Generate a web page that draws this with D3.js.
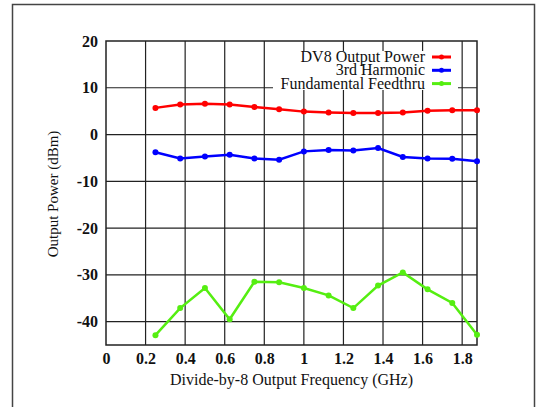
<!DOCTYPE html>
<html lang="en">
	<head>
		<meta charset="utf-8">
		<title>DV8 output power</title>
		<script src="https://d3js.org/d3.v7.min.js"></script>
		<style type="text/css">
			body { margin: 0; background: white; }
			text { font-family: "Liberation Serif", serif; fill: #111; }
			.tick text { font-weight: bold; font-size: 16px; }
		</style>
	</head>
	<body>
		<svg id="chart" width="536" height="407"></svg>

		<script type="text/javascript">

			// frequency (GHz)
			var freq = [0.25, 0.375, 0.5, 0.625, 0.75, 0.875, 1.0, 1.125, 1.25, 1.375, 1.5, 1.625, 1.75, 1.875];

			// output power (dBm)
			var dv8Power = [5.7, 6.4, 6.6, 6.4, 5.9, 5.4, 4.9, 4.7, 4.6, 4.6, 4.7, 5.1, 5.2, 5.2];
			var harmonic3 = [-3.8, -5.1, -4.7, -4.3, -5.1, -5.4, -3.6, -3.3, -3.4, -2.9, -4.8, -5.1, -5.2, -5.7];
			var feedthru = [-42.9, -37.1, -32.8, -39.5, -31.5, -31.6, -32.8, -34.4, -37.1, -32.3, -29.5, -33.1, -36.0, -42.8];

			var seriesNames = ["DV8 Output Power", "3rd Harmonic", "Fundamental Feedthru"];
			var seriesColors = ["#ff0000", "#0000ff", "#55ee11"];

			var xTicks = [0, 0.2, 0.4, 0.6, 0.8, 1, 1.2, 1.4, 1.6, 1.8];
			var yTicks = [20, 10, 0, -10, -20, -30, -40];

			var svg = d3.select("#chart");

			// outer frame
			svg.append("rect")
				.attr("x", 12.5).attr("y", 4.5)
				.attr("width", 522).attr("height", 420)
				.attr("fill", "none")
				.attr("stroke", "#444")
				.attr("stroke-width", 1.5);

			var pL = 106, pR = 477, pT = 41, pB = 345;

			var x = d3.scaleLinear().domain([0, 1.875]).range([pL, pR]);
			var y = d3.scaleLinear().domain([-45, 20]).range([pB, pT]);

			// grid
			svg.append("g")
				.selectAll("line")
				.data(xTicks.slice(1))
				.enter().append("line")
				.attr("x1", function(d) { return x(d); })
				.attr("x2", function(d) { return x(d); })
				.attr("y1", pT).attr("y2", pB)
				.attr("stroke", "#222").attr("stroke-width", 1.2);

			svg.append("g")
				.selectAll("line")
				.data(yTicks.slice(1))
				.enter().append("line")
				.attr("x1", pL).attr("x2", pR)
				.attr("y1", function(d) { return y(d); })
				.attr("y2", function(d) { return y(d); })
				.attr("stroke", "#222").attr("stroke-width", 1.2);

			// axes (labels only)
			var xAxis = svg.append("g")
				.attr("transform", "translate(0," + pB + ")")
				.call(d3.axisBottom(x).tickValues(xTicks).tickSize(0).tickPadding(8)
					.tickFormat(function(d) { return String(d); }));
			xAxis.select(".domain").remove();
			xAxis.selectAll("text").attr("fill", "#111");

			var yAxis = svg.append("g")
				.attr("transform", "translate(" + pL + ",0)")
				.call(d3.axisLeft(y).tickValues(yTicks).tickSize(0).tickPadding(8)
					.tickFormat(function(d) { return String(d); }));
			yAxis.select(".domain").remove();
			yAxis.selectAll("text").attr("fill", "#111");

			// plot border
			svg.append("rect")
				.attr("x", pL).attr("y", pT)
				.attr("width", pR - pL).attr("height", pB - pT)
				.attr("fill", "none")
				.attr("stroke", "#222").attr("stroke-width", 1.5);

			// axis titles
			svg.append("text")
				.attr("x", (pL + pR) / 2).attr("y", 385)
				.attr("text-anchor", "middle")
				.style("font-size", "16px")
				.text("Divide-by-8 Output Frequency (GHz)");

			svg.append("text")
				.attr("transform", "translate(58,194) rotate(-90)")
				.attr("text-anchor", "middle")
				.style("font-size", "15px")
				.text("Output Power (dBm)");

			// legend background
			svg.append("rect")
				.attr("x", 273).attr("y", 51)
				.attr("width", 185).attr("height", 39)
				.attr("fill", "white");

			var allSeries = [dv8Power, harmonic3, feedthru];
			var line = d3.line()
				.x(function(d, i) { return x(freq[i]); })
				.y(function(d) { return y(d); });

			allSeries.forEach(function(vals, k) {
				var g = svg.append("g");
				g.append("path")
					.attr("d", line(vals))
					.attr("fill", "none")
					.attr("stroke", seriesColors[k])
					.attr("stroke-width", 2.5);
				g.selectAll("circle")
					.data(vals)
					.enter().append("circle")
					.attr("cx", function(d, i) { return x(freq[i]); })
					.attr("cy", function(d) { return y(d); })
					.attr("r", 3)
					.attr("fill", seriesColors[k]);

				// legend entry
				var ly = 57 + k * 13.3;
				svg.append("text")
					.attr("x", 425).attr("y", ly + 5)
					.attr("text-anchor", "end")
					.style("font-size", "16px")
					.text(seriesNames[k]);
				svg.append("line")
					.attr("x1", 432).attr("x2", 451)
					.attr("y1", ly).attr("y2", ly)
					.attr("stroke", seriesColors[k])
					.attr("stroke-width", 3);
				svg.append("circle")
					.attr("cx", 441.5).attr("cy", ly).attr("r", 2.5)
					.attr("fill", seriesColors[k]);
			});

		</script>
	</body>
</html>
